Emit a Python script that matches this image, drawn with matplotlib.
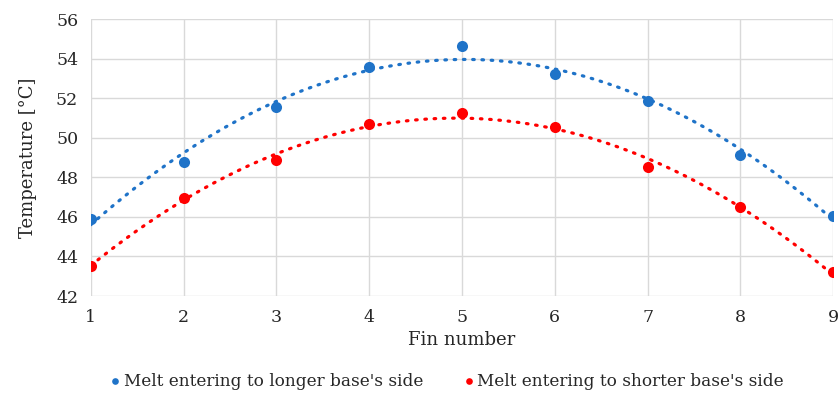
import numpy as np
import matplotlib
matplotlib.use("Agg")
import matplotlib.pyplot as plt

fins = [1, 2, 3, 4, 5, 6, 7, 8, 9]
longer = [45.9, 48.8, 51.55, 53.6, 54.65, 53.2, 51.85, 49.15, 46.05]
shorter = [43.5, 46.97, 48.9, 50.7, 51.27, 50.55, 48.5, 46.5, 43.2]
yticks = [42, 44, 46, 48, 50, 52, 54, 56]
labels = ["Melt entering to longer base's side", "Melt entering to shorter base's side"]
colors = ["#1F73C8", "#FF0000"]

plt.rcParams['font.family'] = ['DejaVu Serif']

fig = plt.figure(figsize=(8.4, 4.05), dpi=100)
ax = fig.add_axes([0.108, 0.269, 0.884, 0.684])

xs = np.linspace(1, 9, 200)
for ys, c, lab in zip([longer, shorter], colors, labels):
    coef = np.polyfit(fins, ys, 2)
    ax.plot(xs, np.polyval(coef, xs), color=c, lw=2.3, linestyle=(0, (0.5, 2.4)),
            dash_capstyle='round', zorder=3)
    ax.scatter(fins, ys, s=64, color=c, zorder=4, label=lab, linewidths=0)

ax.set_xlim(1, 9)
ax.set_ylim(42, 56)
ax.set_xticks(fins)
ax.set_yticks(yticks)
ax.grid(True, color="#D9D9D9", lw=1)
ax.set_axisbelow(True)
for s in ax.spines.values():
    s.set_visible(False)
ax.tick_params(length=0, labelsize=12.5, colors="#262626", pad=9)
ax.set_xlabel("Fin number", fontsize=13, color="#262626", labelpad=4)
ax.set_ylabel("Temperature [°C]", fontsize=13, color="#262626", labelpad=14)

leg = fig.legend(loc="lower center", bbox_to_anchor=(0.53, 0.0), ncol=2, frameon=False,
                 fontsize=12.2, handletextpad=0.0, handlelength=1.0, columnspacing=2.2,
                 markerscale=0.6, labelcolor="#262626")
fig.savefig("out.png", dpi=100)
